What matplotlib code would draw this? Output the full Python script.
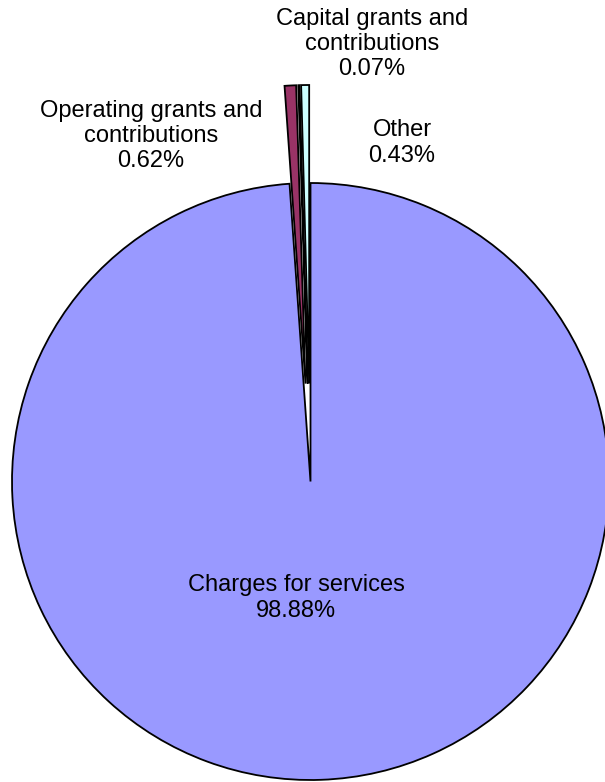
import matplotlib.pyplot as plt

plt.rcParams['font.family'] = ['Liberation Sans', 'DejaVu Sans']

sources = ['Charges for services', 'Operating grants and\ncontributions',
           'Capital grants and\ncontributions', 'Other']
shares = [98.88, 0.62, 0.07, 0.43]
colors = ['#9999FF', '#993366', '#FFFFCC', '#CCFFFF']

# canvas in pixel units so the pie sits where we want it
W, H = 605, 782
cx, cy, r = 310.5, H - 481.5, 298.5
pull = [0, 98, 98, 98]

# label anchor points (pixel coords, y from top)
label_xy = [(296, 598), (151, 136), (372, 44), (402, 143)]

fig = plt.figure(figsize=(W / 100, H / 100), dpi=100)
ax = fig.add_axes([0, 0, 1, 1])

ax.pie(shares, colors=colors, explode=pull, center=(cx, cy), radius=r,
       startangle=90, counterclock=False, frame=True,
       wedgeprops=dict(edgecolor='black', linewidth=1.3))
ax.set_xlim(0, W)
ax.set_ylim(0, H)
ax.set_aspect('equal')
ax.axis('off')

for name, val, (lx, ly) in zip(sources, shares, label_xy):
    ax.text(lx, H - ly, f'{name}\n{val:.2f}%', ha='center', va='center',
            fontsize=17, linespacing=1.18, color='black')

fig.savefig('out.png', dpi=100)
